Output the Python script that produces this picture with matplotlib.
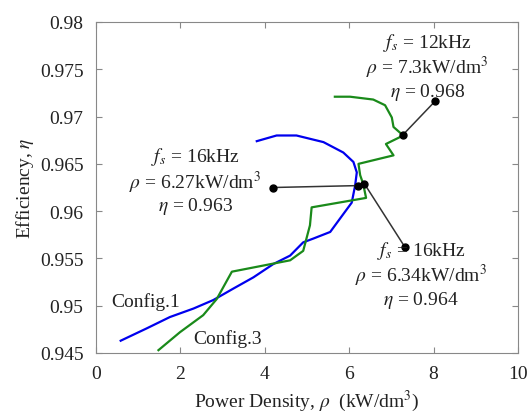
import numpy as np
import matplotlib
matplotlib.use("Agg")
import matplotlib.pyplot as plt

plt.rcParams['font.family'] = ['Liberation Serif', 'DejaVu Serif']
plt.rcParams['mathtext.fontset'] = 'stix'

# Config.1 (blue) trace
rho_c1 = [0.585, 1.2, 1.75, 2.31, 2.78, 3.25, 3.73, 4.2, 4.6, 4.91, 5.15, 5.55,
          5.78, 6.06, 6.14, 6.18, 6.1, 5.86, 5.39, 4.75, 4.28, 3.81]
eta_c1 = [0.9463, 0.9476, 0.9488, 0.9497, 0.9506, 0.9518, 0.9530, 0.9544, 0.9553,
          0.9567, 0.9571, 0.9578, 0.9592, 0.9609, 0.9627, 0.9641, 0.9652, 0.9662,
          0.9673, 0.9680, 0.9680, 0.9674]

# Config.3 (green) trace
rho_c3 = [1.48, 1.99, 2.54, 2.86, 3.22, 4.6, 4.91, 5.07, 5.11, 6.4, 6.33, 6.26,
          6.22, 7.05, 6.87, 7.28, 7.05, 7.01, 6.85, 6.57, 6.02, 5.66]
eta_c3 = [0.9453, 0.9472, 0.9490, 0.9507, 0.9536, 0.9548, 0.9558, 0.9585, 0.9604,
          0.9614, 0.9629, 0.9638, 0.9650, 0.9659, 0.9671, 0.9680, 0.9689, 0.9699,
          0.9712, 0.9718, 0.9721, 0.9721]

# highlighted design points and where their leader lines end
pts_rho = [6.2, 6.36, 7.28]
pts_eta = [0.9627, 0.9629, 0.9681]
end_rho = [4.2, 7.32, 8.03]
end_eta = [0.9625, 0.9562, 0.9716]
labels = ["$f_s$ = 16kHz\n$\\rho$ = 6.27kW/dm$^3$\n$\\eta$ = 0.963",
          "$f_s$ = 16kHz\n$\\rho$ = 6.34kW/dm$^3$\n$\\eta$ = 0.964",
          "$f_s$ = 12kHz\n$\\rho$ = 7.3kW/dm$^3$\n$\\eta$ = 0.968"]
label_pos = [(2.35, 0.9632), (7.7, 0.9533), (7.85, 0.9753)]

fig = plt.figure(figsize=(5.29, 4.14), dpi=100)
ax = fig.add_axes([96/529, 1 - 354/414, (518-96)/529, (354-23)/414])

ax.plot(rho_c1, eta_c1, color="#0000ee", linewidth=1.6)
ax.plot(rho_c3, eta_c3, color="#1a8a1a", linewidth=1.6)

for i in range(3):
    ax.plot([pts_rho[i], end_rho[i]], [pts_eta[i], end_eta[i]], color="#333333",
            linewidth=1.1, marker="o", markersize=5, markerfacecolor="black",
            markeredgecolor="black")
    ax.text(label_pos[i][0], label_pos[i][1], labels[i], ha="center", va="center",
            fontsize=14, linespacing=1.05, color="#222222")

ax.text(0.35, 0.9505, "Config.1", fontsize=14, color="#222222", va="center")
ax.text(2.3, 0.9466, "Config.3", fontsize=14, color="#222222", va="center")

ax.set_xlim(0, 10)
ax.set_ylim(0.945, 0.98)
ax.set_xticks([0, 2, 4, 6, 8, 10])
ax.set_yticks([0.945, 0.95, 0.955, 0.96, 0.965, 0.97, 0.975, 0.98])
ax.set_yticklabels(["0.945", "0.95", "0.955", "0.96", "0.965", "0.97", "0.975", "0.98"])
ax.tick_params(direction="in", top=True, right=True, labelsize=14, color="#888888",
               labelcolor="#222222", length=4)
ax.tick_params(axis="x", pad=9)
ax.tick_params(axis="y", pad=9)
for s in ax.spines.values():
    s.set_color("#888888")

ax.set_xlabel("Power Density, $\\rho$  (kW/dm$^3$)", fontsize=14, color="#222222", labelpad=4)
ax.set_ylabel("Efficiency, $\\eta$", fontsize=14, color="#222222", labelpad=3)

fig.savefig("out.png", dpi=100)
